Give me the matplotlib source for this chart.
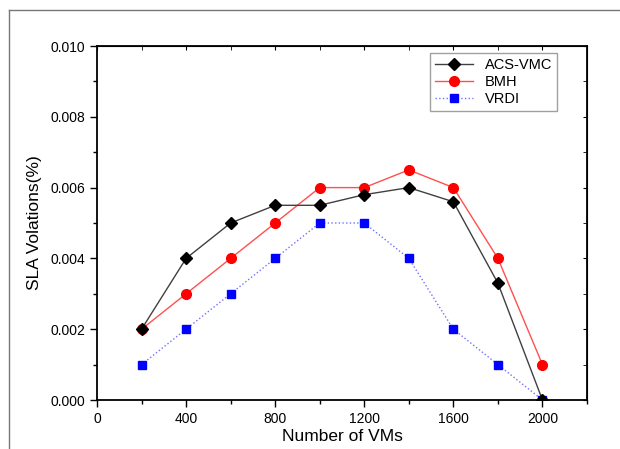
import matplotlib.pyplot as plt
from matplotlib.lines import Line2D
from matplotlib.ticker import MultipleLocator

plt.rcParams['font.family'] = ['Liberation Sans', 'DejaVu Sans']

vms = [200, 400, 600, 800, 1000, 1200, 1400, 1600, 1800, 2000]
acs_vmc = [0.002, 0.004, 0.005, 0.0055, 0.0055, 0.0058, 0.006, 0.0056, 0.0033, 0.0]
bmh = [0.002, 0.003, 0.004, 0.005, 0.006, 0.006, 0.0065, 0.006, 0.004, 0.001]
vrdi = [0.001, 0.002, 0.003, 0.004, 0.005, 0.005, 0.004, 0.002, 0.001, 0.0]

fig = plt.figure(figsize=(6.2, 4.49), dpi=100)
ax = fig.add_axes([97 / 620, 49 / 449, 490 / 620, 354 / 449])

ax.plot(vms, vrdi, color='#7070ff', lw=1, ls=':', marker='s', ms=6,
        mfc='blue', mec='blue', label='VRDI', zorder=2)
ax.plot(vms, bmh, color='#ff5050', lw=1, marker='o', ms=7,
        mfc='red', mec='red', label='BMH', zorder=3)
ax.plot(vms, acs_vmc, color='#404040', lw=1, marker='D', ms=6.5,
        mfc='black', mec='black', label='ACS-VMC', zorder=4)

ax.set_xlim(0, 2200)
ax.set_ylim(0, 0.010)
ax.set_xticks([0, 400, 800, 1200, 1600, 2000])
ax.xaxis.set_minor_locator(MultipleLocator(200))
ax.set_yticks([0.000, 0.002, 0.004, 0.006, 0.008, 0.010])
ax.set_yticklabels(['0.000', '0.002', '0.004', '0.006', '0.008', '0.010'])
ax.yaxis.set_minor_locator(MultipleLocator(0.001))
ax.tick_params(which='major', direction='out', length=5, width=1, labelsize=10, colors='black')
ax.tick_params(which='minor', direction='out', length=3, width=1)
for s in ax.spines.values():
    s.set_linewidth(1.3)

# mirrored inward ticks on top and right
top = ax.secondary_xaxis('top')
top.set_xticks([0, 400, 800, 1200, 1600, 2000])
top.xaxis.set_minor_locator(MultipleLocator(200))
top.tick_params(which='both', direction='in', length=3, labeltop=False)
right = ax.secondary_yaxis('right')
right.set_yticks([0.000, 0.002, 0.004, 0.006, 0.008, 0.010])
right.yaxis.set_minor_locator(MultipleLocator(0.001))
right.tick_params(which='both', direction='in', length=3, labelright=False)

ax.set_xlabel('Number of VMs', fontsize=12.5, labelpad=2)
ax.set_ylabel('SLA Volations(%)', fontsize=12.5, labelpad=6)

handles, labels = ax.get_legend_handles_labels()
leg = ax.legend(handles[::-1], labels[::-1], loc='upper right',
                bbox_to_anchor=(460 / 490, 347 / 354), borderaxespad=0,
                fontsize=10.5, frameon=True,
                fancybox=False, edgecolor='#888888', handlelength=2.6,
                borderpad=0.35, labelspacing=0.2)
leg.get_frame().set_linewidth(1)

# outer frame lines (top and left)
fig.add_artist(Line2D([9 / 620, 9 / 620], [0, 1 - 10 / 449], transform=fig.transFigure,
                      color='#777777', lw=1))
fig.add_artist(Line2D([9 / 620, 1], [1 - 10 / 449, 1 - 10 / 449], transform=fig.transFigure,
                      color='#777777', lw=1))

fig.savefig('out.png', dpi=100)
